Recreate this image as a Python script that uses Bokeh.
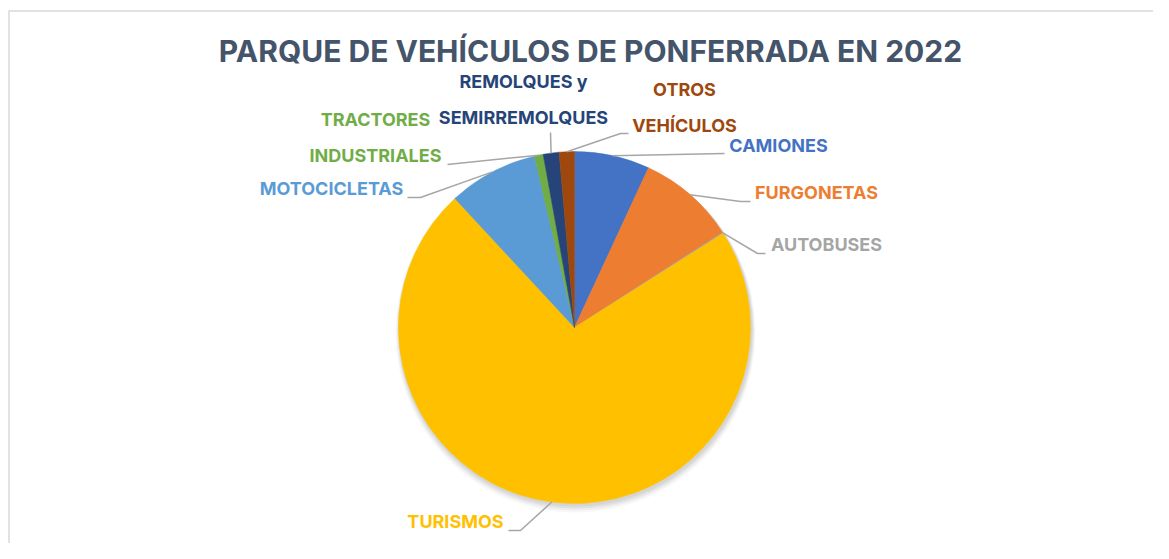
import math
from bokeh.plotting import figure
from bokeh.models import Range1d
from bokeh.core.properties import value
from bokeh.embed import file_html
from bokeh.resources import INLINE

# ---- data ----
categories = ["CAMIONES", "FURGONETAS", "AUTOBUSES", "TURISMOS", "MOTOCICLETAS",
              "TRACTORES INDUSTRIALES", "REMOLQUES y SEMIRREMOLQUES", "OTROS VEHÍCULOS"]
values = [3320, 4330, 50, 34650, 3960, 390, 700, 670]
colors = ["#4472C4", "#ED7D31", "#A5A5A5", "#FFC000", "#5B9BD5",
          "#70AD47", "#264478", "#9E480E"]
label_lines = [["CAMIONES"], ["FURGONETAS"], ["AUTOBUSES"], ["TURISMOS"], ["MOTOCICLETAS"],
               ["TRACTORES", "INDUSTRIALES"], ["REMOLQUES y", "SEMIRREMOLQUES"],
               ["OTROS", "VEHÍCULOS"]]
title = "PARQUE DE VEHÍCULOS DE PONFERRADA EN 2022"

# ---- layout (picture pixel coords) ----
W, H = 1153, 543
CX, CY, R = 574, 327, 176
label_pos = [(778, 145), (816, 192), (826, 244), (455, 521), (331, 188),
             (375, 119), (523, 81), (684, 89)]
leader_tail = [[(724, 153)],
               [(740, 201), (750, 201)],
               [(757, 253), (765, 253)],
               [(520, 530), (508, 530)],
               [(420, 197), (407, 197)],
               [(447, 164)],
               [(550, 132)],
               [(620, 133), (628, 133)]]
LINE_GAP = 36
FONT = "Inter"

def Y(py):
    return H - py

p = figure(width=W, height=H, x_range=Range1d(0, W), y_range=Range1d(0, H),
           output_backend="svg", toolbar_location=None, min_border=0,
           x_axis_type=None, y_axis_type=None, outline_line_color=None)
p.grid.visible = False
p.background_fill_color = "white"

# chart border
p.line([8.5, 8.5, 1200], [Y(600), Y(10.5), Y(10.5)], line_color="#D9D9D9", line_width=1.5)

# soft shadow
for i, a in enumerate([0.05, 0.05, 0.04, 0.03]):
    p.scatter([CX + 1], [Y(CY + 2 + i)], size=2 * (R + 1 + i), marker="circle",
              fill_color="#000000", fill_alpha=a, line_color=None)

# wedges (clockwise from top)
total = sum(values)
acc = 0.0
mids = []
for v, c in zip(values, colors):
    a1 = acc / total * 360
    acc += v
    a2 = acc / total * 360
    mids.append((a1 + a2) / 2)
    p.wedge(x=[CX], y=[Y(CY)], radius=R, radius_units="screen",
            start_angle=math.radians(90 - a1), end_angle=math.radians(90 - a2),
            direction="clock", fill_color=c, line_color=c, line_width=0.5)

# leader lines
for m, tail in zip(mids, leader_tail):
    ex = CX + R * math.sin(math.radians(m))
    ey = CY - R * math.cos(math.radians(m))
    xs = [ex] + [t[0] for t in tail]
    ys = [Y(ey)] + [Y(t[1]) for t in tail]
    p.line(xs, ys, line_color="#A6A6A6", line_width=1.5)

# labels
for lines, (lx, ly), c in zip(label_lines, label_pos, colors):
    for k, t in enumerate(lines):
        p.text(x=[lx], y=[Y(ly + k * LINE_GAP)], text=[t], text_align="center",
               text_baseline="middle", text_color=c, text_font=value(FONT),
               text_font_style="bold", text_font_size="18px")

# title
p.text(x=[590], y=[Y(50)], text=[title], text_align="center", text_baseline="middle",
       text_color="#44546A", text_font=value(FONT), text_font_style="bold",
       text_font_size="30px")

open("out.html", "w").write(file_html(p, INLINE))
